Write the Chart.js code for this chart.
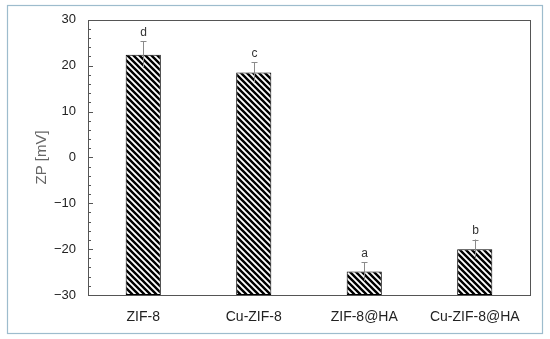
<!DOCTYPE html>
<html>
<head>
<meta charset="utf-8">
<script src="https://cdn.jsdelivr.net/npm/chart.js@4.4.1/dist/chart.umd.min.js"></script>
<style>
  html, body { margin: 0; padding: 0; background: #fff; }
  #wrap { width: 550px; height: 339px; }
</style>
</head>
<body>
<div id="wrap"><canvas id="zpChart" width="550" height="339"></canvas></div>
<script>
const categories = ['ZIF-8', 'Cu-ZIF-8', 'ZIF-8@HA', 'Cu-ZIF-8@HA'];
const zpValues = [22.4, 18.5, -24.9, -20.0];
const zpErrors = [2.9, 2.2, 2.0, 2.1];
const groupLetters = ['d', 'c', 'a', 'b'];
const yTicks = [-30, -20, -10, 0, 10, 20, 30];
const yMin = -30, yMax = 30;

// motif hachuré
function makeHatch() {
    const c = document.createElement('canvas');
    c.width = 6; c.height = 6;
    const g = c.getContext('2d');
    g.fillStyle = '#fff';
    g.fillRect(0, 0, 6, 6);
    g.strokeStyle = '#000';
    g.lineWidth = 2.4;
    g.beginPath();
    g.moveTo(-1, -1); g.lineTo(7, 7);
    g.moveTo(-4, 2); g.lineTo(1, 7);
    g.moveTo(5, -1); g.lineTo(8, 2);
    g.stroke();
    return g.createPattern(c, 'repeat');
}

const framePlugin = {
    id: 'frame',
    beforeDraw(chart) {
        const ctx = chart.ctx;
        ctx.save();
        ctx.strokeStyle = '#9dbccd';
        ctx.lineWidth = 1.2;
        ctx.strokeRect(7.5, 5.5, 535, 328);
        ctx.restore();
    },
    afterDraw(chart) {
        const ctx = chart.ctx;
        const a = chart.chartArea;
        const y = chart.scales.y;
        const x = chart.scales.x;
        ctx.save();
        // cadre du tracé
        ctx.strokeStyle = '#555';
        ctx.lineWidth = 1;
        ctx.strokeRect(Math.round(a.left) + 0.5, Math.round(a.top) + 0.5,
            Math.round(a.right - a.left), Math.round(a.bottom - a.top));
        // graduations vers l'intérieur
        ctx.beginPath();
        for (let v = yMin; v <= yMax; v += 2) {
            const py = Math.round(y.getPixelForValue(v)) + 0.5;
            const len = (v % 10 === 0) ? 5 : 3;
            ctx.moveTo(a.left, py);
            ctx.lineTo(a.left + len, py);
        }
        ctx.stroke();
        // barres d'erreur et lettres
        ctx.strokeStyle = '#8a8a8a';
        ctx.fillStyle = '#333';
        ctx.font = '12px "Liberation Sans", Arial, sans-serif';
        ctx.textAlign = 'center';
        ctx.textBaseline = 'bottom';
        zpValues.forEach((v, i) => {
            const px = Math.round(x.getPixelForValue(i)) + 0.5;
            const top = y.getPixelForValue(v + zpErrors[i]);
            const low = y.getPixelForValue(v - zpErrors[i]);
            ctx.beginPath();
            ctx.moveTo(px, low);
            ctx.lineTo(px, top);
            ctx.moveTo(px - 3, Math.round(top) + 0.5);
            ctx.lineTo(px + 3, Math.round(top) + 0.5);
            ctx.stroke();
            ctx.fillText(groupLetters[i], px, top - 3);
        });
        ctx.restore();
    }
};

new Chart(document.getElementById('zpChart').getContext('2d'), {
    type: 'bar',
    data: {
        labels: categories,
        datasets: [{
            data: zpValues.map(v => [yMin, v]),
            backgroundColor: makeHatch(),
            borderColor: '#000',
            borderWidth: 1,
            borderSkipped: false,
            categoryPercentage: 1,
            barPercentage: 0.318
        }]
    },
    options: {
        responsive: false,
        animation: false,
        layout: { padding: { left: 8, right: 20, top: 17, bottom: 12 } },
        plugins: { legend: { display: false }, tooltip: { enabled: false } },
        scales: {
            x: {
                grid: { display: false, drawTicks: false },
                border: { display: false },
                ticks: {
                    padding: 14,
                    color: '#222',
                    font: { family: '"Liberation Sans", Arial, sans-serif', size: 14 }
                },
                afterFit: s => { s.height = 32; }
            },
            y: {
                min: yMin,
                max: yMax,
                afterBuildTicks: s => { s.ticks = yTicks.map(v => ({ value: v })); },
                grid: { display: false, drawTicks: false },
                border: { display: false },
                ticks: {
                    padding: 12,
                    color: '#222',
                    font: { family: '"Liberation Sans", Arial, sans-serif', size: 13 },
                    callback: v => String(v).replace('-', '\u2212')
                },
                title: {
                    display: true,
                    text: 'ZP [mV]',
                    color: '#666',
                    padding: { top: 25, bottom: 0 },
                    font: { family: '"Liberation Sans", Arial, sans-serif', size: 15 }
                },
                afterFit: s => { s.width = 80; }
            }
        }
    },
    plugins: [framePlugin]
});
</script>
</body>
</html>
